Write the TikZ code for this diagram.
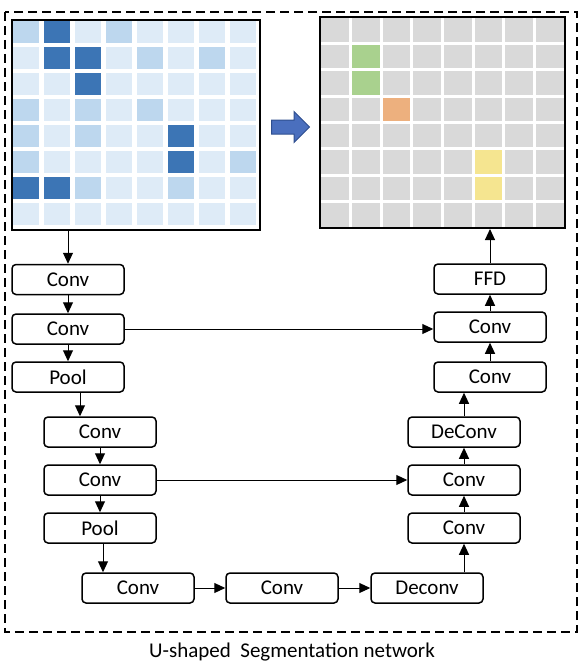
\documentclass[tikz,border=0pt]{standalone}
\usepackage{fontspec}
\setmainfont{Carlito}
\usetikzlibrary{arrows.meta,shapes.arrows}
\definecolor{cellL}{HTML}{DEEBF7}
\definecolor{cellM}{HTML}{BDD7EE}
\definecolor{cellD}{HTML}{3C75B5}
\definecolor{cellG}{HTML}{D9D9D9}
\definecolor{segG}{HTML}{A9D18E}
\definecolor{segO}{HTML}{EDB07E}
\definecolor{segY}{HTML}{F5E590}
\definecolor{flowA}{HTML}{4A6FBE}
\definecolor{flowB}{HTML}{2F4F8F}
\begin{document}
\begin{tikzpicture}[x=1pt,y=-1pt,>={Triangle[length=11pt,width=10pt]},
    layer/.style={draw,line width=1.5pt,rounded corners=4pt,minimum width=112pt,minimum height=30pt,inner sep=0pt,font=\fontsize{21}{24}\selectfont},
    map/.style={draw,line width=2pt,inner sep=0pt},
    every path/.append style={line width=1pt}]
                \useasboundingbox (0,0) rectangle (581,669);
                \draw[line width=2pt,dash pattern=on 9pt off 5pt] (5,12) rectangle (577,632);

                \foreach \row [count=\r] in {{M,D,L,M,L,L,L,L},{L,D,D,L,M,L,M,L},{L,L,D,L,L,L,L,L},{M,L,M,L,M,L,L,L},{M,L,M,L,L,D,L,L},{M,L,L,L,L,D,L,M},{D,D,M,L,L,M,L,L},{L,L,L,L,L,L,L,L}}
                    \foreach \c [count=\k] in \row
                        \fill[fill=cell\c] ({13+(\k-1)*31},{21+(\r-1)*26}) rectangle +(26,22);
                \node[map,minimum width=248pt,minimum height=210pt] (inmap) at (136,125) {};

                \fill[cellG] (320,17) rectangle (565,228);
                \foreach \k/\r/\c in {2/2/segG,2/3/segG,3/4/segO,6/6/segY,6/7/segY}
                    \fill[fill=\c] ({320+(\k-1)*30.625},{17+(\r-1)*26.375}) rectangle +(30.625,26.375);
                \foreach \k in {1,...,7} {
                    \draw[white,line width=3pt] ({320+\k*30.625},17) -- ++(0,211);
                    \draw[white,line width=3pt] (320,{17+\k*26.375}) -- ++(245,0);
                }
                \node[map,minimum width=245pt,minimum height=211pt] (outmap) at (442.5,122.5) {};

                \node[single arrow,draw=flowB,fill=flowA,line width=1pt,minimum height=38pt,inner xsep=0pt,inner ysep=6.5pt,single arrow head extend=8.5pt] (flow) at (287,127) {};

                \node[layer] (conva) at (68,279.5) {Conv};
                \node[layer] (convb) at (68,329) {Conv};
                \node[layer] (poola) at (68,377) {Pool};
                \node[layer] (convc) at (100,432) {Conv};
                \node[layer] (convd) at (100,480) {Conv};
                \node[layer] (poolb) at (100,528) {Pool};
                \node[layer] (conve) at (138,588) {Conv};
                \node[layer] (convf) at (282,588) {Conv};
                \node[layer] (deconva) at (427,588) {Deconv};
                \node[layer] (convg) at (464,528) {Conv};
                \node[layer] (convh) at (464,480) {Conv};
                \node[layer] (deconvb) at (464,432) {DeConv};
                \node[layer] (convi) at (490,377) {Conv};
                \node[layer] (convj) at (490,327) {Conv};
                \node[layer] (ffd) at (490,279) {FFD};
                \node[font=\fontsize{21}{24}\selectfont] (title) at (292,652) {U-shaped\ \ Segmentation network};

                \draw[->] (conva |- inmap.south) to (conva.north);
                \draw[->] (conva) to (convb);
                \draw[->] (convb) to (poola);
                \draw[->] ([xshift=12pt]poola.south) to ([xshift=12pt]poola.south |- convc.north);
                \draw[->] (convc) to (convd);
                \draw[->] (convd) to (poolb);
                \draw[->] ([xshift=3pt]poolb.south) to ([xshift=3pt]poolb.south |- conve.north);
                \draw[->] (conve) to (convf);
                \draw[->] (convf) to (deconva);
                \draw[->] (convg |- deconva.north) to (convg);
                \draw[->] (convg) to (convh);
                \draw[->] (convh) to (deconvb);
                \draw[->] (deconvb) to (deconvb |- convi.south);
                \draw[->] (convi) to (convj);
                \draw[->] (convj) to (ffd);
                \draw[->] (ffd) to (ffd |- outmap.south);
                \draw[->] (convb.east) to (convb.east -| convj.west);
                \draw[->] (convd.east) to (convd.east -| convh.west);
            \end{tikzpicture}
\end{document}
